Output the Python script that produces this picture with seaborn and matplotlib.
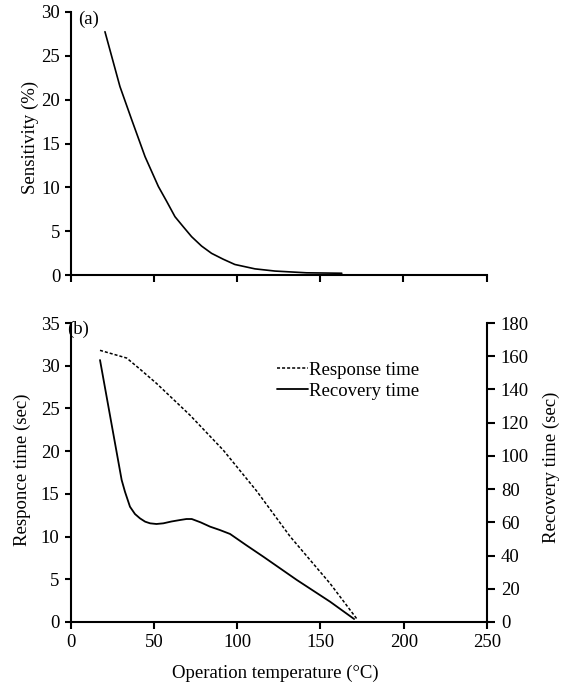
import matplotlib
matplotlib.use("Agg")
import matplotlib.pyplot as plt
import pandas as pd
import seaborn as sns

# ---------------- data ----------------
# Panel (a): sensitivity vs operation temperature
sens_temp = [20.6, 29.6, 36.7, 40.7, 44.7, 48.7, 52.7, 57.7, 62.7, 67.7, 72.7, 78.7,
             84.7, 91.7, 98.7, 110.8, 122.8, 141.8, 163.0]
sensitivity = [27.75, 21.5, 17.7, 15.6, 13.5, 11.8, 10.1, 8.4, 6.65, 5.5, 4.37, 3.3,
               2.47, 1.8, 1.2, 0.7, 0.45, 0.25, 0.2]

# Panel (b): response time (left axis) and recovery time (right axis)
resp_temp = [17.6, 33.6, 41.6, 51.7, 71.7, 91.7, 111.8, 131.8, 155.8, 171.7]
response_time = [31.8, 30.9, 29.6, 27.9, 24.2, 20.1, 15.3, 10.0, 4.5, 0.4]
rec_temp = [17.6, 30.6, 32.6, 35.6, 38.6, 41.6, 44.7, 47.7, 51.5, 55.6, 60.5, 65.7, 69.5,
            72.7, 78.0, 83.7, 89.5, 95.7, 105.5, 115.7, 135.8, 155.8, 170.2]
recovery_time = [157.7, 85.5, 78.4, 69.4, 65.0, 62.4, 60.4, 59.4, 59.0, 59.4, 60.5, 61.4,
                 62.0, 62.0, 60.0, 57.4, 55.4, 53.0, 46.2, 39.3, 25.3, 12.2, 1.8]

x_ticks = [0, 50, 100, 150, 200, 250]
sens_ticks = [0, 5, 10, 15, 20, 25, 30]
resp_ticks = [0, 5, 10, 15, 20, 25, 30, 35]
rec_ticks = [0, 20, 40, 60, 80, 100, 120, 140, 160, 180]

series_names = ["Response time", "Recovery time"]

# ---------------- style ----------------
sns.set_theme(style="ticks")
plt.rcParams["font.family"] = ["Liberation Serif", "DejaVu Serif"]
FS = 13.5
plt.rcParams.update({
    "font.size": FS,
    "axes.linewidth": 1.5,
    "xtick.major.width": 1.5,
    "ytick.major.width": 1.5,
    "xtick.major.size": 5,
    "ytick.major.size": 4.5,
    "xtick.color": "black",
    "ytick.color": "black",
    "axes.edgecolor": "black",
    "text.color": "black",
    "axes.labelcolor": "black",
})

fig = plt.figure(figsize=(5.65, 6.89), dpi=100)
W, H = 565.0, 689.0

# ---------------- panel (a) ----------------
ax_a = fig.add_axes([70.7 / W, 1 - 275 / H, (486.5 - 70.7) / W, (275 - 12) / H])
df_a = pd.DataFrame({"temp": sens_temp, "sens": sensitivity})
sns.lineplot(data=df_a, x="temp", y="sens", ax=ax_a, color="black", lw=1.2,
             sort=False, estimator=None)
ax_a.set_xlim(0, 250)
ax_a.set_ylim(0, 30)
ax_a.set_xticks(x_ticks)
ax_a.set_xticklabels([])
ax_a.set_yticks(sens_ticks)
ax_a.tick_params(axis="y", labelsize=FS, pad=3.0, direction="out")
ax_a.tick_params(axis="x", direction="out", length=5)
ax_a.set_xlabel("")
ax_a.set_ylabel("Sensitivity (%)", fontsize=FS, va="center")
ax_a.yaxis.set_label_coords((30 - 70.7) / 415.8, (275 - 137) / 263.0)
for s in ["top", "right"]:
    ax_a.spines[s].set_visible(False)
ax_a.text(0.018, 0.973, "(a)", transform=ax_a.transAxes, fontsize=FS,
          ha="left", va="center")

# ---------------- panel (b) ----------------
ax_b = fig.add_axes([70.7 / W, 1 - 622 / H, (487 - 70.7) / W, (622 - 323) / H])
ax_r = ax_b.twinx()

df_resp = pd.DataFrame({"temp": resp_temp, "value": response_time})
df_rec = pd.DataFrame({"temp": rec_temp, "value": recovery_time})

sns.lineplot(data=df_resp, x="temp", y="value", ax=ax_b, color="black", lw=1.1,
             sort=False, estimator=None, linestyle=(0, (2.0, 1.3)))
sns.lineplot(data=df_rec, x="temp", y="value", ax=ax_r, color="black", lw=1.3,
             sort=False, estimator=None)

ax_b.set_xlim(0, 250)
ax_b.set_ylim(0, 35)
ax_r.set_ylim(0, 180)
ax_b.set_xticks(x_ticks)
ax_b.set_yticks(resp_ticks)
ax_r.set_yticks(rec_ticks)
ax_b.tick_params(axis="x", labelsize=FS, pad=3.5, direction="out", length=5)
ax_b.tick_params(axis="y", labelsize=FS, pad=3.5, direction="out", length=4.5)
ax_r.tick_params(axis="y", labelsize=FS, pad=4.5, direction="out", length=5.5)

ax_b.set_xlabel("Operation temperature (°C)", fontsize=FS, va="center")
ax_b.xaxis.set_label_coords((275 - 70.7) / 416.3, (622 - 673) / 299.0)
ax_b.set_ylabel("Responce time (sec)", fontsize=FS, va="center")
ax_b.yaxis.set_label_coords((22 - 70.7) / 416.3, (622 - 470) / 299.0)
ax_r.set_ylabel("Recovery time (sec)", fontsize=FS, va="center", rotation=90)
ax_r.yaxis.set_label_coords((551 - 70.7) / 416.3, (622 - 467) / 299.0)

ax_b.spines["top"].set_visible(False)
ax_r.spines["top"].set_visible(False)
ax_r.spines["left"].set_visible(False)
ax_r.spines["bottom"].set_visible(False)
ax_b.spines["right"].set_visible(False)

ax_b.text((67 - 70.7) / 416.3, (622 - 329) / 299.0, "(b)", transform=ax_b.transAxes,
          fontsize=FS, ha="left", va="center")

# legend built from the drawn lines
h_resp = ax_b.get_lines()[0]
h_rec = ax_r.get_lines()[0]
ax_r.legend([h_resp, h_rec], series_names, loc="upper left",
            bbox_to_anchor=(277 / W, 1 - 361.5 / H), bbox_transform=fig.transFigure,
            frameon=False, fontsize=FS, handlelength=1.65, handletextpad=0.05,
            labelspacing=0.21, borderpad=0, borderaxespad=0)

fig.savefig("out.png", dpi=100)
